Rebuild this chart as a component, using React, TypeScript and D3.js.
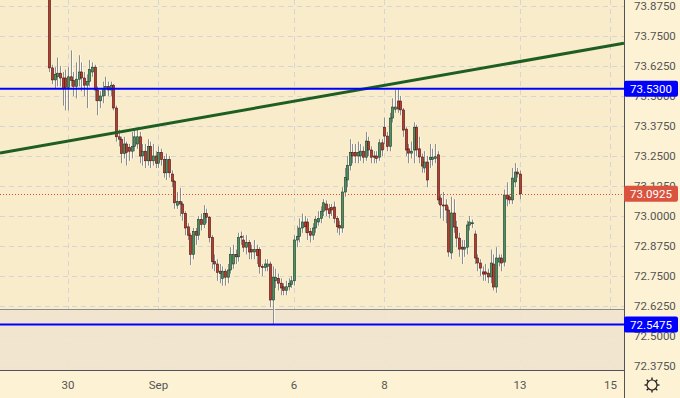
import { useRef, useEffect } from "react";
import * as d3 from "d3";

// hourly bars, [open, high, low, close], grouped by trading day
const aug27 = [
  [73.95, 73.96, 73.6, 73.617], [73.617, 73.63, 73.55, 73.567], [73.567, 73.62, 73.53, 73.59],
  [73.58, 73.66, 73.54, 73.595], [73.595, 73.625, 73.54, 73.575], [73.575, 73.6, 73.46, 73.53],
  [73.575, 73.61, 73.44, 73.535],
];
const aug30 = [
  [73.535, 73.62, 73.44, 73.58], [73.58, 73.69, 73.54, 73.565], [73.565, 73.6, 73.5, 73.54],
  [73.54, 73.64, 73.49, 73.57], [73.57, 73.67, 73.54, 73.6], [73.6, 73.64, 73.52, 73.575],
  [73.575, 73.6, 73.5, 73.545], [73.545, 73.59, 73.45, 73.56], [73.56, 73.65, 73.54, 73.61],
  [73.6, 73.64, 73.58, 73.62], [73.62, 73.63, 73.48, 73.525], [73.525, 73.54, 73.42, 73.48],
  [73.48, 73.52, 73.45, 73.5], [73.5, 73.56, 73.47, 73.53], [73.53, 73.58, 73.5, 73.54],
  [73.54, 73.56, 73.5, 73.525], [73.525, 73.56, 73.5, 73.545],
];
const aug31 = [
  [73.545, 73.55, 73.44, 73.45], [73.45, 73.46, 73.31, 73.33], [73.33, 73.36, 73.29, 73.32],
  [73.32, 73.33, 73.22, 73.26], [73.26, 73.33, 73.24, 73.3], [73.3, 73.31, 73.21, 73.265],
  [73.285, 73.3, 73.23, 73.27], [73.27, 73.35, 73.24, 73.29], [73.29, 73.367, 73.27, 73.33],
  [73.3, 73.37, 73.28, 73.33], [73.33, 73.35, 73.22, 73.25], [73.25, 73.3, 73.21, 73.27],
  [73.27, 73.3, 73.2, 73.23], [73.23, 73.32, 73.21, 73.29], [73.29, 73.31, 73.2, 73.23],
  [73.23, 73.3, 73.21, 73.25], [73.25, 73.27, 73.2, 73.22],
];
const sep01 = [
  [73.22, 73.29, 73.2, 73.265], [73.265, 73.28, 73.21, 73.235], [73.235, 73.25, 73.16, 73.18],
  [73.18, 73.26, 73.15, 73.235], [73.235, 73.25, 73.16, 73.18], [73.175, 73.19, 73.12, 73.145],
  [73.145, 73.15, 73.03, 73.055], [73.045, 73.1, 73.03, 73.06], [73.06, 73.117, 73.0, 73.05],
  [73.05, 73.06, 72.98, 73.01], [73.01, 73.02, 72.92, 72.95], [72.955, 72.97, 72.9, 72.92],
  [72.92, 72.93, 72.796, 72.84], [72.84, 72.95, 72.82, 72.935], [72.935, 72.95, 72.88, 72.92],
  [72.92, 73.0, 72.9, 72.985], [72.985, 73.01, 72.94, 72.965],
];
const sep02 = [
  [72.965, 73.045, 72.95, 73.01], [73.01, 73.03, 72.97, 72.995], [72.995, 73.0, 72.89, 72.91],
  [72.91, 72.92, 72.78, 72.81], [72.81, 72.84, 72.77, 72.8], [72.8, 72.82, 72.73, 72.765],
  [72.77, 72.8, 72.72, 72.76], [72.74, 72.79, 72.71, 72.77], [72.77, 72.78, 72.71, 72.745],
  [72.745, 72.8, 72.72, 72.775], [72.775, 72.87, 72.76, 72.84], [72.8, 72.88, 72.78, 72.84],
  [72.84, 72.86, 72.8, 72.83], [72.83, 72.93, 72.81, 72.91], [72.915, 72.935, 72.88, 72.91],
  [72.9, 72.92, 72.85, 72.87], [72.87, 72.92, 72.84, 72.89],
];
const sep03 = [
  [72.89, 72.9, 72.82, 72.85], [72.86, 72.88, 72.82, 72.85], [72.85, 72.9, 72.82, 72.86],
  [72.86, 72.88, 72.8, 72.835], [72.86, 72.87, 72.76, 72.79], [72.79, 72.8, 72.75, 72.785],
  [72.785, 72.82, 72.77, 72.8], [72.79, 72.82, 72.77, 72.8], [72.8, 72.81, 72.62, 72.65],
  [72.65, 72.79, 72.545, 72.745], [72.73, 72.78, 72.7, 72.745], [72.74, 72.76, 72.69, 72.72],
  [72.72, 72.74, 72.67, 72.7], [72.705, 72.72, 72.67, 72.69], [72.69, 72.73, 72.67, 72.705],
  [72.705, 72.74, 72.69, 72.72], [72.715, 72.75, 72.7, 72.73],
];
const sep06 = [
  [72.73, 72.92, 72.71, 72.9], [72.9, 72.96, 72.87, 72.915], [72.915, 72.99, 72.89, 72.95],
  [72.95, 73.01, 72.93, 72.975], [72.975, 73.0, 72.93, 72.955], [72.975, 72.99, 72.9, 72.93],
  [72.935, 72.95, 72.89, 72.92], [72.92, 72.97, 72.9, 72.95], [72.95, 73.0, 72.93, 72.985],
  [72.975, 73.02, 72.96, 72.99], [72.99, 73.04, 72.97, 73.02], [73.02, 73.07, 73.0, 73.055],
  [73.05, 73.065, 73.0, 73.025], [73.03, 73.05, 72.99, 73.01], [73.035, 73.05, 73.0, 73.025],
  [73.0375, 73.06, 72.97, 72.99], [72.99, 73.0, 72.93, 72.955],
];
const sep07 = [
  [72.96, 72.98, 72.92, 72.95], [72.95, 73.12, 72.93, 73.1], [73.1, 73.2, 73.08, 73.16],
  [73.15, 73.25, 73.12, 73.21], [73.21, 73.32, 73.19, 73.265], [73.265, 73.3, 73.22, 73.25],
  [73.265, 73.3, 73.22, 73.25], [73.25, 73.31, 73.22, 73.265], [73.25, 73.3, 73.23, 73.27],
  [73.27, 73.29, 73.22, 73.245], [73.245, 73.35, 73.23, 73.3125], [73.31, 73.33, 73.25, 73.275],
  [73.275, 73.29, 73.22, 73.245], [73.25, 73.27, 73.22, 73.245], [73.25, 73.27, 73.22, 73.24],
  [73.245, 73.32, 73.23, 73.305], [73.305, 73.32, 73.25, 73.275],
];
const sep08 = [
  [73.37, 73.41, 73.3, 73.333], [73.333, 73.35, 73.27, 73.29], [73.29, 73.43, 73.27, 73.408],
  [73.408, 73.49, 73.39, 73.454], [73.445, 73.525, 73.43, 73.454], [73.479, 73.53, 73.43, 73.446],
  [73.479, 73.5, 73.42, 73.442], [73.442, 73.45, 73.33, 73.358], [73.362, 73.37, 73.25, 73.275],
  [73.28, 73.3, 73.22, 73.262], [73.262, 73.31, 73.24, 73.27], [73.275, 73.39, 73.22, 73.37],
  [73.37, 73.38, 73.25, 73.275], [73.28, 73.33, 73.22, 73.246], [73.246, 73.26, 73.18, 73.208],
  [73.2, 73.27, 73.18, 73.225], [73.225, 73.25, 73.12, 73.15],
];
const sep09 = [
  [73.235, 73.3, 73.2, 73.245], [73.235, 73.28, 73.21, 73.245], [73.24, 73.3, 73.22, 73.247],
  [73.255, 73.27, 73.05, 73.067], [73.075, 73.09, 72.99, 73.046], [73.046, 73.1, 72.98, 73.042],
  [73.046, 73.07, 72.97, 73.025], [73.025, 73.04, 72.83, 72.85], [72.846, 73.08, 72.82, 73.0125],
  [73.0125, 73.07, 72.93, 72.954], [72.954, 72.98, 72.87, 72.908], [72.908, 72.93, 72.83, 72.862],
  [72.87, 72.9, 72.8, 72.862], [72.862, 72.9, 72.83, 72.87], [72.87, 72.98, 72.84, 72.9625],
  [72.962, 73.0, 72.94, 72.975], [72.97, 72.985, 72.95, 72.972],
];
const sep10 = [
  [72.925, 72.94, 72.8, 72.825], [72.825, 72.84, 72.77, 72.804], [72.804, 72.82, 72.75, 72.783],
  [72.767, 72.79, 72.73, 72.758], [72.767, 72.8, 72.73, 72.758], [72.762, 72.78, 72.72, 72.746],
  [72.746, 72.86, 72.72, 72.804], [72.8, 72.84, 72.69, 72.704], [72.704, 72.87, 72.68, 72.825],
  [72.808, 72.84, 72.79, 72.825], [72.825, 72.84, 72.77, 72.804], [72.808, 73.11, 72.79, 73.0875],
  [73.0875, 73.14, 73.04, 73.071], [73.08, 73.09, 73.05, 73.067], [73.067, 73.2, 73.05, 73.158],
  [73.142, 73.22, 73.12, 73.183], [73.183, 73.2, 73.16, 73.175],
];
const sep13 = [[73.175, 73.19, 73.07, 73.0925]];

// day index counted in trading days from Aug 30, first bar slot within the day
const sessions = [
  { day: -1, first: 10, bars: aug27 },
  { day: 0, first: 0, bars: aug30 },
  { day: 1, first: 0, bars: aug31 },
  { day: 2, first: 0, bars: sep01 },
  { day: 3, first: 0, bars: sep02 },
  { day: 4, first: 0, bars: sep03 },
  { day: 5, first: 0, bars: sep06 },
  { day: 6, first: 0, bars: sep07 },
  { day: 7, first: 0, bars: sep08 },
  { day: 8, first: 0, bars: sep09 },
  { day: 9, first: 0, bars: sep10 },
  { day: 10, first: 0, bars: sep13 },
];
const barsPerDay = 17;

const priceTicks = [73.875, 73.75, 73.625, 73.5, 73.375, 73.25, 73.125, 73.0, 72.875, 72.75, 72.625, 72.5, 72.375];
const dayTicks = [0, 2, 5, 7, 10, 12];
const dayLabels = ["30", "Sep", "6", "8", "13", "15"];

const levels = [73.53, 72.5475];
const lastPrice = 73.0925;
const trendDays = [-1.5044, 12.3];
const trendPrices = [73.2625, 73.72];
const zoneTop = 72.6125;

export default function App() {
  const ref = useRef(null);

  useEffect(() => {
    const svg = d3.select(ref.current);
    svg.selectAll("*").remove();

    const width = 680;
    const height = 398;
    const plotW = 624;
    const plotH = 370;
    const font = "Roboto, 'Liberation Sans', sans-serif";

    const x = d3.scaleLinear().domain([-1.5044, 12.3009]).range([0, plotW]);
    const y = d3.scaleLinear().domain([72.3583, 73.9]).range([plotH, 0]);

    svg.attr("width", width).attr("height", height);

    svg.append("rect").attr("width", width).attr("height", height).attr("fill", "#fdf2d4");
    svg.append("rect").attr("width", plotW).attr("height", plotH).attr("fill", "#f8ecca");

    svg.append("defs").append("clipPath").attr("id", "plot")
      .append("rect").attr("width", plotW).attr("height", plotH);

    const plot = svg.append("g").attr("clip-path", "url(#plot)");

    // grid
    plot.selectAll(".hg").data(priceTicks).enter().append("line")
      .attr("x1", 0).attr("x2", plotW)
      .attr("y1", d => Math.round(y(d)) + 0.5).attr("y2", d => Math.round(y(d)) + 0.5)
      .attr("stroke", "#d6d4d4").attr("stroke-dasharray", "5,4");
    plot.selectAll(".vg").data(dayTicks).enter().append("line")
      .attr("x1", d => Math.round(x(d)) + 0.5).attr("x2", d => Math.round(x(d)) + 0.5)
      .attr("y1", 0).attr("y2", plotH)
      .attr("stroke", "#d6d4d4").attr("stroke-dasharray", "5,4");

    // shaded zone
    plot.append("rect")
      .attr("x", 0).attr("y", y(zoneTop))
      .attr("width", plotW).attr("height", plotH - y(zoneTop))
      .attr("fill", "#efe4cf").attr("opacity", 0.9);
    plot.append("line")
      .attr("x1", 0).attr("x2", plotW)
      .attr("y1", Math.round(y(zoneTop)) + 0.5).attr("y2", Math.round(y(zoneTop)) + 0.5)
      .attr("stroke", "#8c8c8c");

    // candles
    const bars = sessions.flatMap(s => s.bars.map((b, i) => ({
      t: s.day + (s.first + i) / barsPerDay,
      o: b[0], h: b[1], l: b[2], c: b[3]
    })));

    const g = plot.append("g");
    bars.forEach(d => {
      const cx = Math.round(x(d.t)) + 0.5;
      g.append("line")
        .attr("x1", cx + 1).attr("x2", cx + 1)
        .attr("y1", y(d.h)).attr("y2", y(d.l))
        .attr("stroke", "rgba(255,255,255,0.7)");
      g.append("line")
        .attr("x1", cx).attr("x2", cx)
        .attr("y1", y(d.h)).attr("y2", y(d.l))
        .attr("stroke", "#8d8d8d");
    });
    bars.forEach(d => {
      const cx = Math.round(x(d.t)) + 0.5;
      const up = d.c >= d.o;
      const top = y(Math.max(d.o, d.c));
      const h = Math.max(1, Math.abs(y(d.o) - y(d.c)));
      g.append("rect")
        .attr("x", cx - 1.1).attr("y", top)
        .attr("width", 2.2).attr("height", h)
        .attr("fill", up ? "#4f8f64" : "#b63c2e")
        .attr("stroke", up ? "#1d3f27" : "#4c1710")
        .attr("stroke-width", 0.6);
    });

    // trend line
    plot.append("line")
      .attr("x1", x(trendDays[0])).attr("y1", y(trendPrices[0]))
      .attr("x2", x(trendDays[1])).attr("y2", y(trendPrices[1]))
      .attr("stroke", "#1f5e22").attr("stroke-width", 3);

    // horizontal levels
    levels.forEach(p => {
      plot.append("line")
        .attr("x1", 0).attr("x2", plotW)
        .attr("y1", y(p)).attr("y2", y(p))
        .attr("stroke", "#0000ff").attr("stroke-width", 2);
    });

    plot.append("line")
      .attr("x1", 0).attr("x2", plotW)
      .attr("y1", Math.round(y(lastPrice)) + 0.5).attr("y2", Math.round(y(lastPrice)) + 0.5)
      .attr("stroke", "#e0483a").attr("stroke-dasharray", "1,2");

    // axes borders
    svg.append("line")
      .attr("x1", plotW + 0.5).attr("x2", plotW + 0.5)
      .attr("y1", 0).attr("y2", height)
      .attr("stroke", "#50535e");
    svg.append("line")
      .attr("x1", 0).attr("x2", plotW)
      .attr("y1", plotH + 0.5).attr("y2", plotH + 0.5)
      .attr("stroke", "#50535e");

    // price axis labels
    const yAxis = svg.append("g");
    yAxis.append("clipPath").attr("id", "yaxis")
      .append("rect").attr("x", plotW).attr("width", width - plotW).attr("height", plotH);
    yAxis.append("g").attr("clip-path", "url(#yaxis)")
      .selectAll("text").data(priceTicks).enter().append("text")
      .attr("x", 634).attr("y", d => y(d))
      .attr("dy", "0.35em")
      .attr("font-family", font).attr("font-size", 11.5)
      .attr("fill", "#555")
      .text(d => d.toFixed(4));

    const tag = (p, color) => {
      svg.append("rect")
        .attr("x", plotW).attr("y", y(p) - 8)
        .attr("width", 54).attr("height", 16).attr("rx", 2)
        .attr("fill", color);
      svg.append("text")
        .attr("x", 651).attr("y", y(p))
        .attr("dy", "0.35em").attr("text-anchor", "middle")
        .attr("font-family", font).attr("font-size", 11.5)
        .attr("fill", "#fff")
        .text(p.toFixed(4));
    };
    levels.forEach(p => tag(p, "#0000ff"));
    tag(lastPrice, "#d9533f");

    // time axis labels
    svg.selectAll(".xl").data(dayTicks).enter().append("text")
      .attr("x", d => x(d)).attr("y", 385)
      .attr("dy", "0.35em").attr("text-anchor", "middle")
      .attr("font-family", font).attr("font-size", 11.5)
      .attr("fill", "#555")
      .text((d, i) => dayLabels[i]);

    // settings icon
    const gear = svg.append("g").attr("transform", "translate(652,385)");
    gear.append("circle").attr("r", 5).attr("fill", "none").attr("stroke", "#222").attr("stroke-width", 1.2);
    d3.range(8).forEach(i => {
      const a = (i * Math.PI) / 4;
      gear.append("line")
        .attr("x1", Math.cos(a) * 5).attr("y1", Math.sin(a) * 5)
        .attr("x2", Math.cos(a) * 7.5).attr("y2", Math.sin(a) * 7.5)
        .attr("stroke", "#222").attr("stroke-width", 1.4);
    });
  }, []);

  return <svg ref={ref} style={{ position: "absolute", left: 0, top: 0 }}></svg>;
}
